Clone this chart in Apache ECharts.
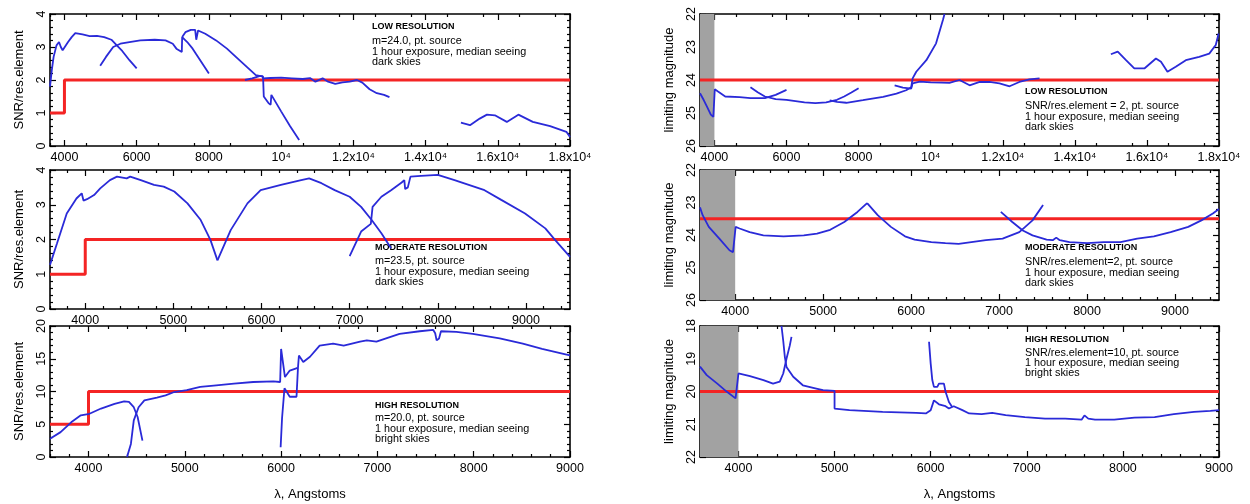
<!DOCTYPE html>
<html><head><meta charset="utf-8">
<script src="https://cdn.jsdelivr.net/npm/echarts@6/dist/echarts.min.js"></script>
<style>html,body{margin:0;padding:0;background:#fff}#c{width:1250px;height:504px}</style>
</head><body><div id="c"></div><script>
// ---------- tick labels ----------
const wideXTicks = [4000,6000,8000,10000,12000,14000,16000,18000];
const wideXLabels = ['4000','6000','8000','10⁴','1.2x10⁴','1.4x10⁴','1.6x10⁴','1.8x10⁴'];
const optXTicksMod = [4000,5000,6000,7000,8000,9000];
const optXTicksHigh = [4000,5000,6000,7000,8000,9000];
const snrYTicks = [0,1,2,3,4];
const highSnrYTicks = [0,5,10,15,20];
const lowMagYTicks = [22,23,24,25,26];
const highMagYTicks = [18,19,20,21,22];

// ---------- LOW resolution, SNR ----------
const lowSnrA = [[3600,1.8],[3650,2.3],[3700,2.7],[3780,3.05],[3850,3.15],[3900,3.0],[3950,2.9],[4000,2.92],[4100,3.15],[4200,3.3],[4300,3.42],[4500,3.38],[4700,3.33],[4900,3.34],[5100,3.3],[5300,3.22],[5450,3.05],[5600,2.88],[5800,2.6],[6000,2.35]];
const lowSnrB = [[4990,2.43],[5150,2.7],[5350,3.0],[5550,3.1],[5800,3.15],[6100,3.2],[6500,3.22],[6800,3.2],[7000,3.1],[7100,2.95],[7250,2.85],[7260,3.3],[7400,3.15],[7550,2.95],[7650,2.78],[7700,2.72],[7850,2.45],[8000,2.2]];
const lowSnrC = [[7260,3.3],[7350,3.45],[7500,3.52],[7620,3.52],[7650,3.22],[7700,3.5],[7900,3.4],[8200,3.2],[8500,2.95],[8800,2.65],[9050,2.4],[9300,2.15],[9500,2.1],[9520,1.5],[9650,1.3],[9710,1.25],[9730,1.55],[10000,1.05],[10250,0.6],[10500,0.18]];
const lowSnrD = [[9000,2.0],[9200,2.05],[9400,2.12],[9480,2.12],[9500,2.05],[9700,2.06],[10000,2.07],[10300,2.05],[10600,2.03],[10800,2.06],[10950,1.95],[11150,2.05],[11300,1.95],[11500,1.88],[11700,1.93],[11900,1.95],[12100,2.0],[12250,1.92],[12450,1.72],[12650,1.6],[12850,1.55],[13000,1.48]];
const lowSnrE = [[14980,0.71],[15230,0.63],[15500,0.83],[15700,0.95],[15920,0.93],[16250,0.73],[16570,0.95],[16970,0.73],[17450,0.6],[17900,0.43],[18000,0.27]];
const lowSnrReq = [[3600,1],[4000,1],[4000,2],[18000,2]];

// ---------- MODERATE resolution, SNR ----------
const modSnrA = [[3600,1.27],[3680,1.89],[3790,2.75],[3900,3.18],[3960,3.33],[3980,3.12],[4020,3.16],[4100,3.28],[4170,3.47],[4280,3.71],[4360,3.81],[4470,3.76],[4510,3.81],[4630,3.71],[4780,3.57],[4890,3.52],[5010,3.38],[5160,3.04],[5310,2.56],[5420,1.99],[5500,1.4]];
const modSnrB = [[5500,1.4],[5650,2.27],[5840,3.04],[5990,3.42],[6220,3.57],[6450,3.71],[6540,3.76],[6680,3.62],[6830,3.42],[7000,3.23],[7130,2.94],[7250,2.56],[7360,2.18],[7470,1.75]];
const modSnrC = [[7000,1.52],[7130,2.23],[7240,2.45],[7260,2.94],[7360,3.23],[7470,3.42],[7590,3.64],[7620,3.71],[7630,3.45],[7660,3.5],[7690,3.81],[7810,3.83],[8000,3.86],[8190,3.71],[8530,3.42],[8720,3.14],[8990,2.75],[9220,2.32],[9330,1.99],[9500,1.5]];
const modSnrReq = [[3600,1],[4000,1],[4000,2],[9500,2]];

// ---------- HIGH resolution, SNR ----------
const highSnrA = [[3600,2.8],[3710,3.8],[3820,5.3],[3920,6.36],[4010,6.6],[4130,7.4],[4270,8.1],[4370,8.5],[4420,8.4],[4470,7.6],[4510,6.1],[4560,2.5]];
const highSnrB = [[4400,0],[4440,2.0],[4470,5.6],[4520,7.6],[4580,8.65],[4710,9.06],[4800,9.4],[4890,9.92],[5020,10.2],[5160,10.7],[5300,10.9],[5510,11.2],[5710,11.45],[5920,11.55],[5990,11.45],[6000,16.5],[6040,12.2],[6090,13.2],[6150,13.5],[6170,13.6]];
const highSnrC = [[5995,1.5],[6010,6],[6035,10.5],[6090,9.2],[6160,9.2],[6175,13.6],[6185,15.5],[6230,14.5],[6300,15.3],[6400,17.0],[6540,17.3],[6650,17.0],[6820,17.6],[6890,17.8],[6990,17.6],[7090,18.1],[7230,18.8],[7440,19.2],[7580,19.4],[7600,18.9],[7615,17.8],[7640,18.1],[7660,19.2],[7820,19.1],[7990,18.8],[8270,18.1],[8510,17.3],[8710,16.5],[8920,15.8],[9000,15.5]];
const highSnrReq = [[3600,5],[4000,5],[4000,10],[9000,10]];

// ---------- LOW resolution, limiting magnitude ----------
const lowMagA = [[3600,24.4],[3700,24.6],[3800,24.82],[3900,25.05],[3970,25.12],[3995,25.1],[4010,24.28],[4100,24.35],[4300,24.5],[4700,24.52],[5000,24.55],[5400,24.55],[5700,24.45],[6000,24.3]];
const lowMagB = [[5000,24.22],[5200,24.37],[5400,24.5],[5700,24.58],[6000,24.6],[6500,24.68],[6800,24.7],[7100,24.68],[7400,24.6],[7600,24.5],[7800,24.38],[8000,24.25]];
const lowMagC = [[7200,24.62],[7400,24.66],[7660,24.69],[8120,24.61],[8680,24.51],[9050,24.41],[9320,24.31],[9460,24.22],[9500,23.95],[9600,23.75],[9880,23.4],[10150,22.89],[10340,22.18],[10385,22.0]];
const lowMagD = [[9000,24.16],[9230,24.23],[9460,24.26],[9500,24.1],[9700,24.05],[10000,24.07],[10300,24.08],[10520,24.09],[10800,24.0],[11080,24.16],[11360,24.06],[11630,24.06],[11910,24.1],[12190,24.19],[12460,24.06],[12740,23.98],[13020,23.95]];
const lowMagE = [[15000,23.22],[15190,23.14],[15420,23.4],[15650,23.65],[15930,23.65],[16250,23.35],[16390,23.45],[16570,23.75],[16800,23.6],[17080,23.4],[17450,23.3],[17730,23.2],[17910,22.94],[17990,22.59]];
const lowMagLimit = [[3600,24],[18000,24]];

// ---------- MODERATE resolution, limiting magnitude ----------
const modMagA = [[3600,23.15],[3630,23.39],[3700,23.75],[3820,24.11],[3935,24.47],[3975,24.53],[3995,24.5],[4005,23.75],[4050,23.8],[4165,23.91],[4320,24.01],[4550,24.04],[4780,24.01],[4930,23.96],[5080,23.84],[5240,23.6],[5390,23.29],[5500,23.02]];
const modMagB = [[5500,23.02],[5620,23.39],[5770,23.75],[5930,24.04],[6040,24.14],[6230,24.22],[6390,24.25],[6540,24.27],[6850,24.16],[7040,24.11],[7230,23.91],[7380,23.55],[7500,23.08]];
const modMagC = [[7020,23.29],[7150,23.6],[7270,23.86],[7380,24.01],[7540,24.14],[7610,24.16],[7650,24.08],[7690,24.16],[7800,24.22],[8000,24.25],[8190,24.22],[8380,24.22],[8570,24.11],[8760,24.04],[8950,23.91],[9150,23.75],[9300,23.55],[9430,23.34],[9500,23.2]];
const modMagLimit = [[3600,23.5],[9500,23.5]];

// ---------- HIGH resolution, limiting magnitude ----------
const highMagA = [[3600,19.24],[3670,19.5],[3780,19.76],[3880,20.01],[3970,20.21],[3990,20.27],[4000,19.45],[4120,19.53],[4260,19.65],[4360,19.76],[4430,19.7],[4466,19.45],[4500,19.0],[4534,18.6],[4552,18.33]];
const highMagB = [[4448,18.0],[4466,18.45],[4483,18.95],[4500,19.25],[4570,19.55],[4670,19.81],[4810,19.91],[4880,19.96],[5000,19.98],[5000,20.52],[5155,20.57],[5500,20.62],[5850,20.65],[5950,20.67],[6000,20.57],[6034,20.27],[6086,20.39],[6155,20.45],[6190,20.52],[6240,20.45],[6330,20.57],[6400,20.67],[6530,20.69],[6640,20.65],[6780,20.72],[6980,20.78],[7190,20.83],[7400,20.83],[7570,20.86],[7600,20.73],[7640,20.83],[7710,20.86],[7910,20.86],[8120,20.8],[8330,20.78],[8530,20.69],[8740,20.62],[8910,20.59],[9000,20.57]];
const highMagC = [[5983,18.48],[6000,19.14],[6017,19.65],[6034,19.86],[6069,19.86],[6086,19.76],[6138,19.76],[6155,20.01],[6190,20.32],[6224,20.47]];
const highMagLimit = [[3600,20],[9000,20]];

// ---------- annotation texts ----------
const lowSnrNote = ['LOW RESOLUTION','m=24.0, pt. source','1 hour exposure, median seeing','dark skies'];
const modSnrNote = ['MODERATE RESOLUTION','m=23.5, pt. source','1 hour exposure, median seeing','dark skies'];
const highSnrNote = ['HIGH RESOLUTION','m=20.0, pt. source','1 hour exposure, median seeing','bright skies'];
const lowMagNote = ['LOW RESOLUTION','SNR/res.element = 2, pt. source','1 hour exposure, median seeing','dark skies'];
const modMagNote = ['MODERATE RESOLUTION','SNR/res.element=2, pt. source','1 hour exposure, median seeing','dark skies'];
const highMagNote = ['HIGH RESOLUTION','SNR/res.element=10, pt. source','1 hour exposure, median seeing','bright skies'];

// ---------- build ----------
const FONT = 'Liberation Sans';
const BLUE = '#2a2ad8', RED = '#f42424', GRAY = '#a2a2a2';
function steps(a, b, s, skip) { const r = []; for (let v = a; v <= b + 1e-9; v += s) { const w = +v.toFixed(4); if (!skip.some(k => Math.abs(k - w) < 1e-6)) r.push(w); } return r; }

const grids = [], xAxes = [], yAxes = [], series = [], graphics = [];

function panel(p) {
  const gi = grids.length;
  grids.push({ left: p.left, top: p.top, width: p.width, height: p.height, containLabel: false, outerBoundsMode: 'none' });
  const xi = xAxes.length, yi = yAxes.length;
  const xMinor = steps(p.xMin, p.xMax, p.xMinorStep, p.xTicks);
  const yMinor = steps(p.yMin, p.yMax, p.yMinorStep, p.yTicks);
  const line = { show: true, onZero: false, lineStyle: { color: '#000', width: 1.6 } };
  const noLine = { show: false, onZero: false };
  const tickStyle = { color: '#000', width: 1.2 };
  const labelMap = {};
  p.xTicks.forEach((v, i) => labelMap[v] = p.xLabels[i]);
  const baseX = { gridIndex: gi, type: 'value', min: p.xMin, max: p.xMax, splitLine: { show: false }, minorTick: { show: false } };
  xAxes.push(Object.assign({}, baseX, {
    position: 'bottom', axisLine: line,
    axisTick: { show: true, inside: true, length: 6, customValues: p.xTicks, lineStyle: tickStyle },
    axisLabel: { show: true, customValues: p.xTicks, formatter: v => labelMap[v] !== undefined ? labelMap[v] : '', color: '#000', fontSize: 12.5, fontFamily: FONT, margin: 5 },
    name: p.xName || '', nameLocation: 'middle', nameGap: 31, nameTextStyle: { color: '#000', fontSize: 13, fontFamily: FONT }
  }));
  xAxes.push(Object.assign({}, baseX, { position: 'bottom', axisLine: noLine, axisTick: { show: true, inside: true, length: 3, customValues: xMinor, lineStyle: tickStyle }, axisLabel: { show: false } }));
  xAxes.push(Object.assign({}, baseX, { position: 'top', axisLine: line, axisTick: { show: true, inside: true, length: 6, customValues: p.xTicks, lineStyle: tickStyle }, axisLabel: { show: false } }));
  xAxes.push(Object.assign({}, baseX, { position: 'top', axisLine: noLine, axisTick: { show: true, inside: true, length: 3, customValues: xMinor, lineStyle: tickStyle }, axisLabel: { show: false } }));
  const baseY = { gridIndex: gi, type: 'value', min: p.yMin, max: p.yMax, inverse: !!p.inverse, splitLine: { show: false }, minorTick: { show: false } };
  yAxes.push(Object.assign({}, baseY, {
    position: 'left', axisLine: line,
    axisTick: { show: true, inside: true, length: 6, customValues: p.yTicks, lineStyle: tickStyle },
    axisLabel: { show: true, customValues: p.yTicks, rotate: 90, color: '#000', fontSize: 12.5, fontFamily: FONT, margin: 2 },
    name: p.yName, nameLocation: 'middle', nameRotate: 90, nameGap: 24, nameTextStyle: { color: '#000', fontSize: 13, fontFamily: FONT }
  }));
  yAxes.push(Object.assign({}, baseY, { position: 'left', axisLine: noLine, axisTick: { show: true, inside: true, length: 3, customValues: yMinor, lineStyle: tickStyle }, axisLabel: { show: false } }));
  yAxes.push(Object.assign({}, baseY, { position: 'right', axisLine: line, axisTick: { show: true, inside: true, length: 6, customValues: p.yTicks, lineStyle: tickStyle }, axisLabel: { show: false } }));
  yAxes.push(Object.assign({}, baseY, { position: 'right', axisLine: noLine, axisTick: { show: true, inside: true, length: 3, customValues: yMinor, lineStyle: tickStyle }, axisLabel: { show: false } }));

  if (p.shade) {
    series.push({ type: 'line', xAxisIndex: xi, yAxisIndex: yi, data: [], z: 1, silent: true,
      markArea: { silent: true, itemStyle: { color: GRAY, opacity: 1 }, data: [[{ xAxis: p.shade[0] }, { xAxis: p.shade[1] }]] } });
  }
  series.push({ type: 'line', xAxisIndex: xi, yAxisIndex: yi, data: p.ref, showSymbol: false, symbol: 'none', z: 2, silent: true, lineStyle: { color: RED, width: 3 } });
  p.curves.forEach(c => series.push({ type: 'line', xAxisIndex: xi, yAxisIndex: yi, data: c, showSymbol: false, symbol: 'none', z: 3, silent: true, lineStyle: { color: BLUE, width: 1.8 } }));

  p.note.forEach((t, i) => graphics.push({ type: 'text', x: p.noteX, y: p.noteY[i], silent: true,
    style: { text: t, fill: '#000', fontFamily: FONT, fontSize: i === 0 ? 9 : 10.8, fontWeight: i === 0 ? 'bold' : 'normal', verticalAlign: 'middle', align: 'left' } }));
}

const numLabels = t => t.map(String);

panel({ left: 50, top: 14, width: 520, height: 132, xMin: 3600, xMax: 18000, xTicks: wideXTicks, xLabels: wideXLabels, xMinorStep: 1000,
  yMin: 0, yMax: 4, yTicks: snrYTicks, yMinorStep: 0.2, yName: 'SNR/res.element',
  ref: lowSnrReq, curves: [lowSnrA, lowSnrB, lowSnrC, lowSnrD, lowSnrE], note: lowSnrNote, noteX: 372, noteY: [27, 41, 52, 62] });
panel({ left: 50, top: 170, width: 520, height: 139, xMin: 3600, xMax: 9500, xTicks: optXTicksMod, xLabels: numLabels(optXTicksMod), xMinorStep: 200,
  yMin: 0, yMax: 4, yTicks: snrYTicks, yMinorStep: 0.2, yName: 'SNR/res.element',
  ref: modSnrReq, curves: [modSnrA, modSnrB, modSnrC], note: modSnrNote, noteX: 375, noteY: [248, 261, 272, 282] });
panel({ left: 50, top: 326, width: 520, height: 131, xMin: 3600, xMax: 9000, xTicks: optXTicksHigh, xLabels: numLabels(optXTicksHigh), xMinorStep: 200,
  yMin: 0, yMax: 20, yTicks: highSnrYTicks, yMinorStep: 1, yName: 'SNR/res.element', xName: 'λ, Angstoms',
  ref: highSnrReq, curves: [highSnrA, highSnrB, highSnrC], note: highSnrNote, noteX: 375, noteY: [406, 418, 429, 439] });
panel({ left: 700, top: 14, width: 519, height: 132, xMin: 3600, xMax: 18000, xTicks: wideXTicks, xLabels: wideXLabels, xMinorStep: 1000,
  yMin: 22, yMax: 26, inverse: true, yTicks: lowMagYTicks, yMinorStep: 0.2, yName: 'limiting magnitude', shade: [3600, 4000],
  ref: lowMagLimit, curves: [lowMagA, lowMagB, lowMagC, lowMagD, lowMagE], note: lowMagNote, noteX: 1025, noteY: [92, 106, 117, 127] });
panel({ left: 700, top: 170, width: 519, height: 130, xMin: 3600, xMax: 9500, xTicks: optXTicksMod, xLabels: numLabels(optXTicksMod), xMinorStep: 200,
  yMin: 22, yMax: 26, inverse: true, yTicks: lowMagYTicks, yMinorStep: 0.2, yName: 'limiting magnitude', shade: [3600, 4000],
  ref: modMagLimit, curves: [modMagA, modMagB, modMagC], note: modMagNote, noteX: 1025, noteY: [248, 262, 273, 283] });
panel({ left: 700, top: 326, width: 519, height: 131, xMin: 3600, xMax: 9000, xTicks: optXTicksHigh, xLabels: numLabels(optXTicksHigh), xMinorStep: 200,
  yMin: 18, yMax: 22, inverse: true, yTicks: highMagYTicks, yMinorStep: 0.2, yName: 'limiting magnitude', xName: 'λ, Angstoms', shade: [3600, 4000],
  ref: highMagLimit, curves: [highMagA, highMagB, highMagC], note: highMagNote, noteX: 1025, noteY: [340, 353, 363, 373] });

const chart = echarts.init(document.getElementById('c'), null, { renderer: 'canvas', width: 1250, height: 504 });
chart.setOption({
  animation: false, backgroundColor: '#fff',
  grid: grids, xAxis: xAxes, yAxis: yAxes, series: series, graphic: graphics
});
</script></body></html>
